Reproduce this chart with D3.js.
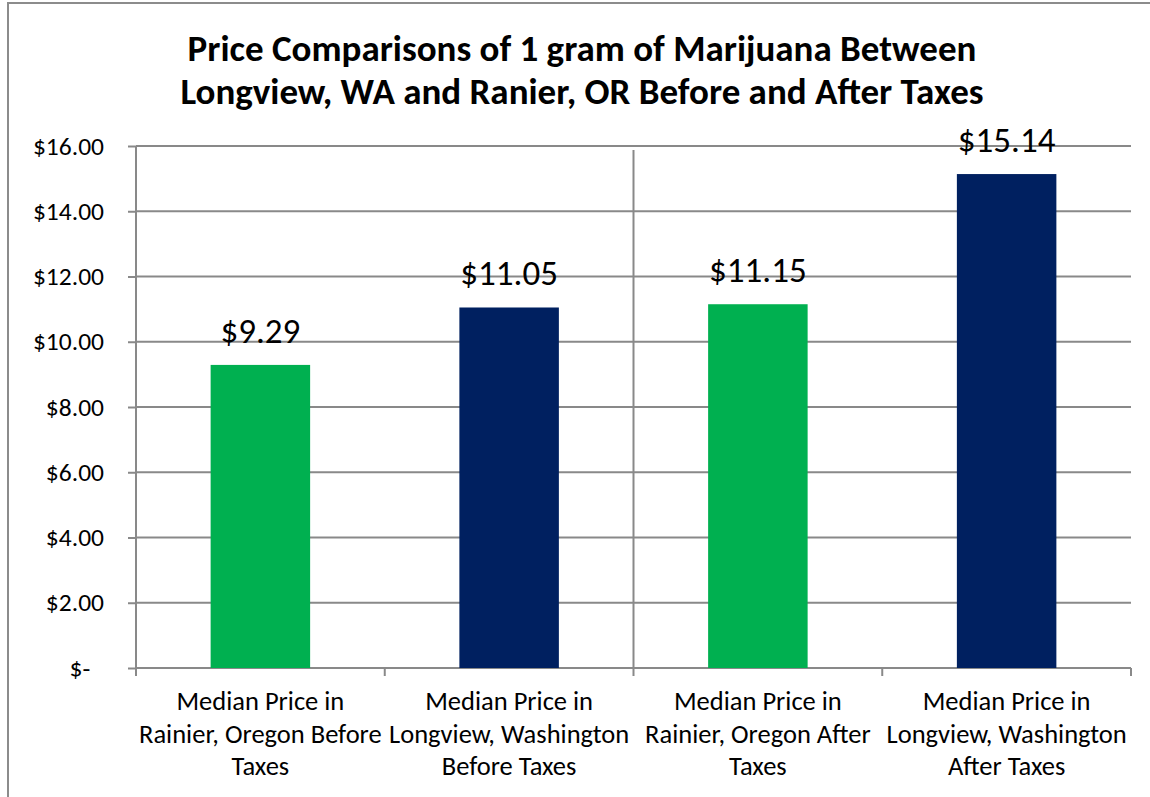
<!DOCTYPE html>
<html>
<head>
<meta charset="utf-8">
<script src="https://cdn.jsdelivr.net/npm/d3@7"></script>
<style>
  body { margin: 0; background: #fff; overflow: hidden; }
  svg { display: block; }
  text { font-family: Carlito, Calibri, Lato, sans-serif; fill: #000; }
</style>
</head>
<body>
<div id="chart"></div>
<script>
// Dados do gráfico
const titleLines = ["Price Comparisons of 1 gram of Marijuana Between", "Longview, WA and Ranier, OR Before and After Taxes"];
const categories = [
  ["Median Price in", "Rainier, Oregon Before", "Taxes"],
  ["Median Price in", "Longview, Washington", "Before Taxes"],
  ["Median Price in", "Rainier, Oregon After", "Taxes"],
  ["Median Price in", "Longview, Washington", "After Taxes"]
];
const prices = [9.29, 11.05, 11.15, 15.14];
const barColors = ["#00b050", "#002060", "#00b050", "#002060"];
const yTicks = [0, 2, 4, 6, 8, 10, 12, 14, 16];

// Configuração
const width = 1150, height = 797;
const margin = { top: 146, right: 19, bottom: 129, left: 136 };
const innerWidth = width - margin.left - margin.right;
const innerHeight = height - margin.top - margin.bottom;
const gridColor = "#898989";

const svg = d3.select("#chart").append("svg")
  .attr("width", width)
  .attr("height", height);

// Borda externa do gráfico
svg.append("rect")
  .attr("x", 8).attr("y", 3)
  .attr("width", width + 10).attr("height", height + 10)
  .attr("fill", "none")
  .attr("stroke", "#8c8c8c")
  .attr("stroke-width", 2);

// Título
svg.append("text")
  .attr("x", 582)
  .attr("y", 61)
  .attr("text-anchor", "middle")
  .style("font-size", "37px")
  .style("font-weight", "bold")
  .selectAll("tspan")
  .data(titleLines)
  .join("tspan")
  .attr("x", 582)
  .attr("dy", (d, i) => i === 0 ? 0 : 43)
  .text(d => d);

const g = svg.append("g")
  .attr("transform", `translate(${margin.left},${margin.top})`);

// Escalas
const x = d3.scaleBand()
  .domain(d3.range(prices.length))
  .range([0, innerWidth])
  .paddingInner(0.6)
  .paddingOuter(0.3);
const xCat = d3.scaleBand().domain(d3.range(prices.length)).range([0, innerWidth]);
const y = d3.scaleLinear().domain([0, 16]).range([innerHeight, 0]);

// Linhas de grade horizontais
g.append("g")
  .selectAll("line")
  .data(yTicks)
  .join("line")
  .attr("x1", 0).attr("x2", innerWidth)
  .attr("y1", d => y(d)).attr("y2", d => y(d))
  .attr("stroke", gridColor)
  .attr("stroke-width", 2);

// Eixo Y
const yAxis = g.append("g")
  .call(d3.axisLeft(y).tickValues(yTicks).tickSize(8).tickPadding(24)
    .tickFormat(d => d === 0 ? "$-\u2007" : "$" + d.toFixed(2)));
yAxis.select(".domain").attr("stroke", gridColor).attr("stroke-width", 2);
yAxis.selectAll(".tick line").attr("stroke", gridColor).attr("stroke-width", 2);
yAxis.selectAll(".tick text")
  .style("font-size", "25.5px")
  .style("font-family", "Carlito, Calibri, Lato, sans-serif")
  .attr("fill", "#000");
yAxis.select(".domain").attr("d", `M0,0V${innerHeight + 8}`);

// Eixo X (marcas de categoria)
const xAxis = g.append("g").attr("transform", `translate(0,${innerHeight})`);
xAxis.append("line")
  .attr("x1", 0).attr("x2", innerWidth)
  .attr("stroke", gridColor).attr("stroke-width", 2);
xAxis.selectAll(".cat-tick")
  .data(d3.range(prices.length + 1))
  .join("line")
  .attr("class", "cat-tick")
  .attr("x1", d => d * xCat.bandwidth()).attr("x2", d => d * xCat.bandwidth())
  .attr("y1", 0).attr("y2", 8)
  .attr("stroke", gridColor).attr("stroke-width", 2);

// Linha vertical separando antes/depois dos impostos
g.append("line")
  .attr("x1", xCat(2)).attr("x2", xCat(2))
  .attr("y1", 4).attr("y2", innerHeight)
  .attr("stroke", gridColor).attr("stroke-width", 2);

// Barras
g.selectAll(".bar")
  .data(prices)
  .join("rect")
  .attr("class", "bar")
  .attr("x", (d, i) => x(i))
  .attr("y", d => y(d))
  .attr("width", x.bandwidth())
  .attr("height", d => innerHeight - y(d))
  .attr("fill", (d, i) => barColors[i]);

// Rótulos de valor
g.selectAll(".value")
  .data(prices)
  .join("text")
  .attr("class", "value")
  .attr("x", (d, i) => x(i) + x.bandwidth() / 2)
  .attr("y", d => y(d) - 22)
  .attr("text-anchor", "middle")
  .style("font-size", "35px")
  .text(d => "$" + d.toFixed(2));

// Rótulos de categoria
g.selectAll(".cat")
  .data(categories)
  .join("text")
  .attr("class", "cat")
  .attr("text-anchor", "middle")
  .style("font-size", "26.5px")
  .selectAll("tspan")
  .data((d, i) => d.map(t => ({ t, i })))
  .join("tspan")
  .attr("x", d => xCat(d.i) + xCat.bandwidth() / 2)
  .attr("y", (d, j) => innerHeight + 42 + j * 32.5)
  .text(d => d.t);
</script>
</body>
</html>
